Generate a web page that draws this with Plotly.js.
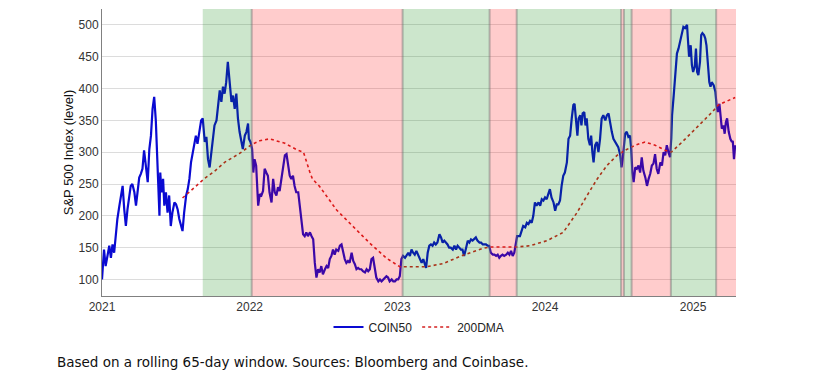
<!DOCTYPE html>
<html>
<head>
<meta charset="utf-8">
<script src="https://cdn.plot.ly/plotly-3.0.1.min.js"></script>
<style>html,body{margin:0;padding:0;background:#fff;}#chart{width:817px;height:382px;}</style>
</head>
<body>
<div id="chart"></div>
<script>
// Days since 2021-01-01 and COIN50 level
const coinDay = [0,5,9,14,18,22,26,30,34,38,43,47,51,55,59,63,67,71,75,80,84,88,92,96,100,104,109,113,117,121,125,129,133,137,142,144,147,151,154,158,162,166,170,174,179,183,187,191,195,199,203,208,212,216,220,224,228,232,236,240,245,249,253,
254,258,262,266,270,274,278,283,287,291,295,299,303,307,311,315,320,324,328,332,336,340,344,348,353,357,361,363,367,371,374,377,381,386,390,394,398,402,406,410,414,419,423,427,431,435,439,443,447,452,456,460,464,468,472,476,480,485,489,493,497,501,505,509,
514,518,522,526,530,534,538,542,546,551,555,559,563,567,571,575,579,584,588,592,596,600,604,608,612,617,621,625,629,633,637,641,645,650,654,658,662,666,670,674,678,683,687,691,695,699,703,707,711,716,720,724,728,732,736,740,744,749,753,757,761,765,769,
773,777,782,786,790,794,798,801,805,809,813,817,821,825,829,834,838,842,846,850,854,858,862,867,871,875,879,883,887,891,895,900,904,908,912,916,920,924,928,933,937,941,945,949,953,957,961,966,970,974,978,982,986,990,994,999,1003,1007,1011,1015,1019,1022,1026,
1033,1037,1041,1046,1050,1054,1058,1062,1066,1070,1074,1079,1083,1087,1091,1095,1099,1103,1107,1111,1116,1120,1124,1128,1132,1136,1140,1144,1149,1153,1157,1161,1165,1168,1172,1175,1178,1182,1185,1188,1192,1195,1198,1202,1206,1209,1212,1215,1219,1223,1227,1231,1235,1239,1244,1248,1252,1256,1260,1264,1268,1272,1276,1281,1284,1287,1290,
1293,1297,1301,1305,1308,1311,1314,1318,1322,1326,1330,1334,1338,1343,1347,1351,1355,1359,1363,1367,1371,1375,1380,1384,1388,1392,1396,1400,1404,1407,1409,1413,1415,1418,1421,1425,1429,1433,1437,1441,1446,1448,1451,1455,1458,1461,1465,1468,1471,1474,1478,1481,1484,1488,1491,1494,1498,1501,1504,1507,1512,1516,1519,1522,1526,1529,1532,1536,1539,1542,1545,1549,1553,1557,1559,1562,1565];
const coinValue = [100,147,121,142,153,134,155,142,174,195,216,232,247,210,184,210,232,247,250,237,216,242,260,266,274,303,279,253,305,326,368,387,350,289,200,268,237,258,216,237,205,232,184,205,221,218,210,195,184,176,205,232,242,258,284,300,311,326,313,332,350,353,321,
316,324,289,276,300,321,342,350,374,397,379,403,392,410,442,413,379,389,368,392,353,332,316,305,326,332,345,321,316,305,268,289,279,216,234,232,239,274,268,263,237,221,258,237,232,245,239,258,274,295,297,279,263,258,263,247,237,237,216,195,171,168,174,168,
174,168,163,126,103,116,111,121,108,116,121,118,132,137,147,139,147,145,153,155,142,132,126,129,126,142,129,124,116,118,116,116,113,111,116,113,116,132,134,116,103,97,100,97,100,103,105,103,97,100,97,97,100,100,105,132,137,134,139,142,137,147,142,
139,145,137,132,126,132,124,118,142,153,155,153,158,155,158,171,166,158,161,158,155,150,150,147,153,147,153,150,147,147,137,150,161,158,163,161,163,166,161,158,158,155,155,155,153,153,142,139,139,137,139,134,137,139,137,139,142,139,145,137,142,153,168,
168,176,184,182,189,187,192,189,200,221,216,221,216,226,224,229,226,234,242,229,221,208,218,218,224,247,263,268,284,321,326,353,374,376,350,326,353,358,342,361,363,342,353,321,311,326,300,284,311,316,300,321,353,358,350,358,361,345,332,321,316,311,308,295,276,289,311,
329,332,324,326,305,268,253,276,274,279,268,292,271,260,247,258,266,279,282,297,274,266,284,279,300,295,311,300,292,321,358,389,403,432,455,463,474,482,497,495,500,479,450,468,437,426,434,463,426,421,442,484,487,484,479,468,432,410,403,410,405,395,374,363,376,350,337,342,329,347,353,332,321,316,318,289,311];

// Days since 2021-01-01 and 200-day moving average
const dmaDay = [199,229,254,278,303,340,370,390,414,452,481,498,505,513,520,538,580,620,662,704,736,761,803,843,892,942,959,991,1026,1058,1100,1140,1157,1174,1199,1224,1248,1273,1293,1318,1342,1367,1392,1407,1434,1459,1484,1508,1523,1540,1560,1565];
const dmaValue = [228,245,259,270,284,298,312,318,321,314,304,300,284,270,258,246,209,183,157,133,120,120,120,125,138,149,151,151,151,153,161,174,189,205,232,258,279,295,303,311,316,311,303,300,316,332,347,363,374,379,384,386];

// Regime shading (start, end, type)
const regionStart = ["2021-09-07","2022-01-06","2023-01-14","2023-08-17","2023-10-23","2024-07-07","2024-07-14","2024-08-02","2024-11-07","2025-02-27"];
const regionEnd   = ["2022-01-06","2023-01-14","2023-08-17","2023-10-23","2024-07-07","2024-07-14","2024-08-02","2024-11-07","2025-02-27","2025-04-17"];
const regionType  = ["up","down","up","down","up","down","up","down","up","down"];

const yTicks = [100,150,200,250,300,350,400,450,500];
const yearTicks = ["2021-01-01","2022-01-01","2023-01-01","2024-01-01","2025-01-01"];
const yearLabels = ["2021","2022","2023","2024","2025"];

const base = Date.UTC(2021,0,1);
const toDate = d => new Date(base + d*86400000).toISOString().slice(0,10);

const traces = [
  {x: coinDay.map(toDate), y: coinValue, name: "COIN50", type: "scatter", mode: "lines",
   line: {color: "#0a0ad2", width: 2.2}},
  {x: dmaDay.map(toDate), y: dmaValue, name: "200DMA", type: "scatter", mode: "lines",
   line: {color: "#d42020", width: 1.6, dash: "dot"}}
];

const shapes = [];
regionStart.forEach((s,i) => {
  shapes.push({type: "rect", layer: "above", xref: "x", yref: "paper", x0: s, x1: regionEnd[i], y0: 0, y1: 1,
    fillcolor: regionType[i] === "up" ? "rgba(0,128,0,0.2)" : "rgba(255,0,0,0.2)", line: {width: 0}});
});
const bounds = regionEnd.slice(0, regionEnd.length - 1);
bounds.forEach(b => {
  shapes.push({type: "line", layer: "above", xref: "x", yref: "paper", x0: b, x1: b, y0: 0, y1: 1,
    line: {color: "rgba(110,110,110,0.45)", width: 2}});
});

const layout = {
  width: 817, height: 382,
  margin: {l: 102, r: 81, t: 9, b: 86},
  paper_bgcolor: "#fff", plot_bgcolor: "#fff",
  font: {family: "Liberation Sans, Arial, sans-serif", size: 12, color: "#333"},
  showlegend: true,
  legend: {orientation: "h", x: 0.5, xanchor: "center", y: -0.108, yanchor: "middle",
    font: {size: 12, color: "#222"}, itemwidth: 30, tracegroupgap: 0},
  xaxis: {type: "date", range: ["2021-01-01","2025-04-17"], tickvals: yearTicks, ticktext: yearLabels,
    showgrid: false, showline: true, linecolor: "#808080", linewidth: 1, ticks: "", zeroline: false,
    tickfont: {size: 12, color: "#333"}},
  yaxis: {range: [74, 525], tickvals: yTicks, showgrid: true, gridcolor: "#dcdcdc", gridwidth: 1,
    showline: true, linecolor: "#808080", linewidth: 1, ticks: "", zeroline: false,
    tickfont: {size: 12, color: "#333"},
    title: {text: "S&P 500 Index (level)", font: {size: 13, color: "#111"}, standoff: 2}},
  shapes: shapes,
  annotations: [{text: "Based on a rolling 65-day window. Sources: Bloomberg and Coinbase.",
    xref: "paper", yref: "paper", x: -0.0741, y: -0.23, xanchor: "left", yanchor: "middle",
    showarrow: false, font: {family: "DejaVu Sans, Verdana, sans-serif", size: 13.5, color: "#111"}}]
};

Plotly.newPlot("chart", traces, layout, {displayModeBar: false, staticPlot: true});
</script>
</body>
</html>
